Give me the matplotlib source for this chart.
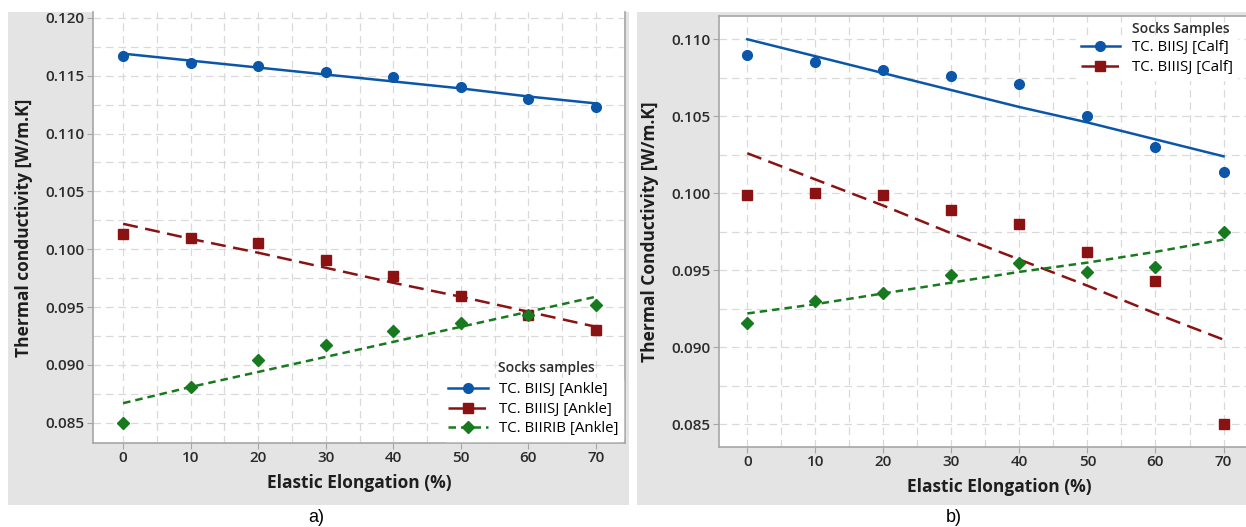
import numpy as np
import matplotlib
matplotlib.use("Agg")
import matplotlib.pyplot as plt
from matplotlib.patches import Rectangle
from matplotlib.ticker import MultipleLocator

plt.rcParams['font.family'] = ['Open Sans', 'DejaVu Sans']

elong = [0, 10, 20, 30, 40, 50, 60, 70]

# a) ankle
ankle_biisj = [0.1167, 0.1161, 0.1158, 0.1153, 0.1149, 0.1140, 0.1130, 0.1123]
ankle_biiisj = [0.1013, 0.1010, 0.1005, 0.0991, 0.0977, 0.0960, 0.0943, 0.0930]
ankle_biirib = [0.0850, 0.0881, 0.0904, 0.0917, 0.0929, 0.0936, 0.0943, 0.0952]
fit_ankle_biisj = [0.1169, 0.1163, 0.1157, 0.1151, 0.1145, 0.1139, 0.1132, 0.1126]
fit_ankle_biiisj = [0.1022, 0.1009, 0.0997, 0.0984, 0.0971, 0.0959, 0.0946, 0.0933]
fit_ankle_biirib = [0.0867, 0.0881, 0.0894, 0.0907, 0.0920, 0.0933, 0.0946, 0.0959]

# b) calf
calf_biisj = [0.1090, 0.1085, 0.1080, 0.1076, 0.1071, 0.1050, 0.1030, 0.1014]
calf_biiisj = [0.0999, 0.1000, 0.0999, 0.0989, 0.0980, 0.0962, 0.0943, 0.0850]
calf_biirib = [0.0916, 0.0930, 0.0935, 0.0947, 0.0955, 0.0949, 0.0952, 0.0975]
fit_calf_biisj = [0.1100, 0.1089, 0.1078, 0.1067, 0.1056, 0.1046, 0.1035, 0.1024]
fit_calf_biiisj = [0.1026, 0.1009, 0.0992, 0.0974, 0.0957, 0.0940, 0.0922, 0.0905]
fit_calf_biirib = [0.0922, 0.0928, 0.0935, 0.0942, 0.0949, 0.0955, 0.0962, 0.0970]

BLUE = "#0b56a8"
RED = "#8a1212"
GREEN = "#177a1f"
GREY_BG = "#e4e4e4"
W, H = 1246, 527

fig = plt.figure(figsize=(W / 100, H / 100), dpi=100)


def px(x0, y0, x1, y1):
    # pixel box (top-left origin) -> figure fraction rect
    return [x0 / W, 1 - y1 / H, (x1 - x0) / W, (y1 - y0) / H]


for (x0, x1) in [(8, 629), (637, 1250)]:
    r = px(x0, 12, x1, 505)
    fig.patches.append(Rectangle((r[0], r[1]), r[2], r[3], transform=fig.transFigure,
                                 facecolor=GREY_BG, edgecolor="none", zorder=-5))


def style_axes(ax, ylab):
    ax.set_facecolor("white")
    ax.xaxis.set_major_locator(MultipleLocator(10))
    ax.xaxis.set_minor_locator(MultipleLocator(5))
    ax.yaxis.set_major_locator(MultipleLocator(0.005))
    ax.yaxis.set_minor_locator(MultipleLocator(0.0025))
    ax.yaxis.set_major_formatter(plt.FormatStrFormatter("%.3f"))
    ax.grid(True, which="both", color="#d9d9d9", linestyle=(0, (6, 4)), linewidth=0.9)
    ax.set_axisbelow(True)
    for s in ax.spines.values():
        s.set_color("#a6a6a6")
        s.set_linewidth(1.2)
    ax.tick_params(which="major", length=4, color="#a6a6a6", labelsize=11,
                   labelcolor="#2b2b2b", pad=2)
    ax.tick_params(which="minor", length=0)
    for t in ax.get_xticklabels() + ax.get_yticklabels():
        t.set_fontweight("semibold")
    ax.set_xlabel("Elastic Elongation (%)", fontsize=12.5, fontweight="bold",
                  color="#1e1e1e", labelpad=6)
    ax.set_ylabel(ylab, fontsize=12.5, fontweight="bold", color="#1e1e1e", labelpad=9)


def draw(ax, pts, fit, color, marker, ms, ls, label):
    ax.plot(elong, fit, color=color, linestyle=ls, linewidth=1.8, zorder=3)
    ax.plot(elong, pts, linestyle="none", marker=marker, markersize=ms, color=color, zorder=4)
    return ax.plot([], [], color=color, linestyle=ls, linewidth=1.8, marker=marker,
                   markersize=ms, label=label)[0]


leg_kw = dict(frameon=True, facecolor="white", edgecolor="white", framealpha=1,
              fontsize=10.8, handlelength=2.65, handletextpad=0.75, labelspacing=0.3,
              borderpad=0.3)

# ---- a) ----
ax1 = fig.add_axes(px(93, 12, 625, 443))
style_axes(ax1, "Thermal conductivity [W/m.K]")
ax1.spines["top"].set_visible(False)
ax1.set_xlim(-4.46, 74.3)
ax1.set_ylim(0.08326, 0.1205)
h1 = draw(ax1, ankle_biisj, fit_ankle_biisj, BLUE, "o", 7, "-", "TC. BIISJ [Ankle]")
h2 = draw(ax1, ankle_biiisj, fit_ankle_biiisj, RED, "s", 7.5, (0, (6, 3)), "TC. BIIISJ [Ankle]")
h3 = draw(ax1, ankle_biirib, fit_ankle_biirib, GREEN, "D", 6.5, (0, (3, 2)), "TC. BIIRIB [Ankle]")
leg1 = ax1.legend(handles=[h1, h2, h3], loc="lower right", bbox_to_anchor=(1.0, 0.0),
                  borderaxespad=0.15, **leg_kw)
leg1.set_zorder(5)
ax1.text(498, H - 368, "Socks samples", transform=None, fontsize=10, fontweight="semibold",
         color="#2b2b2b", va="center", ha="left", zorder=6)

# ---- b) ----
ax2 = fig.add_axes(px(719, 16, 1280, 447))
style_axes(ax2, "Thermal Conductivity [W/m.K]")
ax2.set_xlim(-4.16, 78.3)
ax2.set_ylim(0.08353, 0.11151)
g1 = draw(ax2, calf_biisj, fit_calf_biisj, BLUE, "o", 7, "-", "TC. BIISJ [Calf]")
g2 = draw(ax2, calf_biiisj, fit_calf_biiisj, RED, "s", 7.5, (0, (6, 3)), "TC. BIIISJ [Calf]")
draw(ax2, calf_biirib, fit_calf_biirib, GREEN, "D", 6.5, (0, (3, 2)), "TC. BIIRIB [Calf]")
leg2 = ax2.legend(handles=[g1, g2], loc="upper left",
                  bbox_to_anchor=(1076 / W, 1 - 36 / H), bbox_transform=fig.transFigure,
                  borderaxespad=0, **leg_kw)
leg2.set_zorder(5)
ax2.text(1132, H - 29, "Socks Samples", transform=None, fontsize=10, fontweight="semibold",
         color="#2b2b2b", va="center", ha="left", zorder=6)

fig.text(308 / W, 1 - 518 / H, "a)", fontsize=13, family="Liberation Sans", ha="left", va="center")
fig.text(946 / W, 1 - 518 / H, "b)", fontsize=13, family="Liberation Sans", ha="left", va="center")

fig.savefig("out.png", dpi=100)
